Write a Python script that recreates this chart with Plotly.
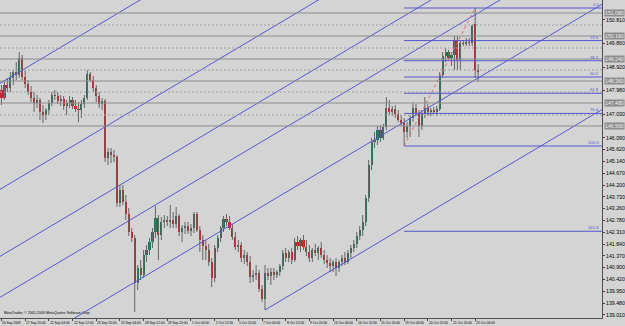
import plotly.graph_objects as go

# ---------------- data (GBPJPY H4, 16 Sep - 23 Oct 2009) ----------------
opens = [148.00,147.68,148.20,148.08,148.48,148.72,148.60,149.28,148.52,148.24,
         147.92,147.68,147.48,147.60,147.12,147.00,147.20,147.48,147.80,147.76,
         147.56,147.64,147.36,147.48,147.60,147.36,147.24,147.20,147.44,147.68,
         148.64,148.40,148.08,147.76,147.44,147.56,145.28,145.52,145.40,145.32,
         143.48,144.00,143.52,143.04,142.32,142.08,140.28,140.88,140.60,141.40,
         141.60,141.92,142.32,142.88,142.20,142.72,142.80,142.72,142.80,142.64,
         142.96,142.32,142.48,142.56,142.36,142.48,143.04,142.40,142.00,141.76,
         141.60,141.12,140.48,141.68,142.08,142.48,142.84,142.72,142.48,142.12,
         141.72,141.80,141.28,141.40,141.12,140.52,140.60,140.68,140.04,139.64,
         140.68,140.56,140.72,140.60,140.72,140.96,141.48,141.28,141.52,141.20,
         141.92,141.76,142.00,141.72,141.52,141.28,141.60,141.48,141.68,141.40,
         141.20,141.08,140.96,141.12,140.88,141.12,141.28,141.12,141.48,141.68,
         141.84,142.16,142.40,142.72,143.68,145.00,145.92,146.00,146.40,146.08,
         146.52,147.28,147.12,147.24,147.04,146.80,146.68,146.32,146.56,146.88,
         147.28,147.08,146.56,147.04,147.28,147.12,147.20,147.12,147.24,148.60,
         149.36,149.52,149.28,149.40,150.00,149.20,149.88,149.84,149.92,149.88,
         150.64,148.80]
highs = [148.20,148.40,148.48,148.72,148.80,149.12,149.52,149.40,148.80,148.40,
         148.16,147.92,147.80,147.68,147.40,147.28,147.60,147.92,148.00,147.92,
         147.80,147.76,147.60,147.76,147.72,147.60,147.52,147.60,147.80,148.80,
         148.72,148.56,148.20,147.92,147.68,147.64,145.68,145.68,145.60,145.40,
         144.20,144.20,143.80,143.28,142.48,142.20,141.00,141.20,141.60,141.80,
         142.08,142.48,143.36,143.00,142.92,143.00,142.96,143.40,143.12,143.32,
         143.04,142.60,142.72,142.72,142.64,143.12,143.12,142.56,142.20,142.00,
         141.84,141.28,141.80,142.20,142.56,142.96,143.04,142.96,142.64,142.32,
         142.00,141.92,141.60,141.52,141.36,140.80,141.00,140.80,140.20,141.00,
         140.88,140.88,140.88,140.80,141.04,141.60,141.68,141.60,141.68,142.08,
         142.16,142.08,142.20,142.00,141.80,141.68,141.84,141.76,141.92,141.60,
         141.40,141.28,141.20,141.28,141.20,141.40,141.52,141.60,141.80,142.00,
         142.32,142.56,143.00,143.80,145.20,146.08,146.32,146.56,146.60,146.64,
         147.72,147.60,147.36,147.40,147.20,147.00,146.88,146.72,147.00,147.48,
         147.44,147.20,147.20,147.72,147.44,147.28,147.32,147.36,148.72,149.52,
         149.68,149.60,149.52,150.16,150.16,150.00,150.00,150.08,150.08,150.64,
         151.28,149.04]
lows = [147.40,147.60,147.92,147.92,148.20,148.40,148.48,148.40,148.08,147.80,
        147.52,147.12,147.28,146.80,146.68,146.80,147.00,147.36,147.60,147.44,
        147.36,147.20,147.00,147.28,147.24,147.12,146.72,146.88,147.28,147.60,
        148.32,147.92,147.52,147.28,147.20,145.12,145.00,145.08,145.12,143.32,
        143.32,143.40,142.80,142.16,141.92,139.12,140.00,140.40,140.48,141.12,
        141.40,141.68,142.08,141.20,142.00,142.48,142.56,142.48,142.48,142.48,
        142.16,141.92,142.24,142.24,142.16,142.28,142.32,141.52,141.20,141.20,
        140.96,140.12,140.32,141.52,141.92,142.32,142.56,142.40,142.00,141.60,
        141.52,141.12,141.04,140.96,140.28,140.32,140.40,139.92,139.52,139.20,
        140.40,140.20,140.40,140.48,140.56,140.80,141.12,141.12,141.04,141.12,
        141.60,141.52,141.60,141.36,141.12,141.12,141.36,141.20,141.28,141.04,
        140.88,140.72,140.72,140.56,140.72,140.96,141.00,141.04,141.28,141.52,
        141.68,142.00,142.16,142.56,143.52,144.80,145.68,145.80,145.92,146.00,
        146.40,147.00,146.96,146.88,146.72,146.56,145.76,146.08,146.12,146.72,
        146.96,146.12,146.40,146.88,146.96,146.96,147.04,146.96,147.16,148.48,
        149.12,149.20,148.96,148.80,148.80,148.80,149.76,149.76,149.76,149.76,
        148.48,148.32]
closes = [147.68,148.20,148.08,148.48,148.72,148.60,149.28,148.52,148.24,147.92,
          147.68,147.48,147.60,147.12,147.00,147.20,147.48,147.80,147.76,147.56,
          147.64,147.36,147.48,147.60,147.36,147.24,147.20,147.44,147.68,148.64,
          148.40,148.08,147.76,147.44,147.56,145.28,145.52,145.40,145.32,143.48,
          144.00,143.52,143.04,142.32,142.08,140.28,140.88,140.60,141.40,141.60,
          141.92,142.32,142.88,142.20,142.72,142.80,142.72,142.80,142.64,142.96,
          142.32,142.48,142.56,142.36,142.48,143.04,142.40,142.00,141.76,141.60,
          141.12,140.48,141.68,142.08,142.48,142.84,142.72,142.48,142.12,141.72,
          141.80,141.28,141.40,141.12,140.52,140.60,140.68,140.04,139.64,140.68,
          140.56,140.72,140.60,140.72,140.96,141.48,141.28,141.52,141.20,141.92,
          141.76,142.00,141.72,141.52,141.28,141.60,141.48,141.68,141.40,141.20,
          141.08,140.96,141.12,140.88,141.12,141.28,141.12,141.48,141.68,141.84,
          142.16,142.40,142.72,143.68,145.00,145.92,146.00,146.40,146.08,146.52,
          147.28,147.12,147.24,147.04,146.80,146.68,146.32,146.56,146.88,147.28,
          147.08,146.56,147.04,147.28,147.12,147.20,147.12,147.24,148.60,149.36,
          149.52,149.28,149.40,150.00,149.20,149.88,149.84,149.92,149.88,150.56,
          148.80,148.72]
bars = list(range(len(closes)))

date_tick_bars = [0, 8, 16, 24, 32, 40, 48, 56, 64, 72, 80, 88, 96, 104, 112, 120, 128, 136, 144, 152, 160]
date_tick_labels = ["16 Sep 2009", "17 Sep 20:00", "21 Sep 04:00", "22 Sep 12:00", "23 Sep 20:00",
                    "25 Sep 04:00", "28 Sep 12:00", "29 Sep 20:00", "1 Oct 04:00", "2 Oct 12:00",
                    "5 Oct 20:00", "7 Oct 04:00", "8 Oct 12:00", "9 Oct 20:00", "13 Oct 04:00",
                    "14 Oct 12:00", "15 Oct 20:00", "19 Oct 04:00", "20 Oct 12:00", "21 Oct 20:00",
                    "23 Oct 04:00"]
# price scale labels (those hidden under the line price boxes are left out)
price_ticks = [150.810, 149.860, 148.920, 147.980, 147.030,
               146.090, 145.620, 145.140, 144.670, 144.200, 143.730, 143.260,
               142.780, 142.310, 141.840, 141.370, 140.900, 140.420, 139.950, 139.480, 139.010]

# user drawn horizontal lines
hline_solid = [151.08, 150.16, 149.24, 148.36, 147.48, 146.56]
hline_dotted = [150.60, 149.68, 148.80, 147.92, 147.00]

# Fibonacci retracement (anchors: swing low bar/price, swing high bar/price)
fib_low_bar, fib_low = 136, 145.76
fib_high_bar, fib_high = 160, 151.28
fib_levels = [0.0, 23.6, 38.2, 50.0, 61.8, 76.4, 100.0, 161.8]

# parallel channel lines: (bar0, price0, bar1, price1)
channel_lines = [
    (-1, 148.23, 203, 162.60),
    (-1, 143.99, 203, 158.36),
    (-1, 141.31, 203, 155.68),
    (-1, 139.67, 203, 154.04),
    (-1, 137.07, 203, 151.44),
    (89, 139.20, 203, 147.23),
]

# ---------------- style ----------------
BG = "#d4d4d4"
BULL = "#23705f"
BEAR = "#c82020"
WICK = "#666666"
BLUE = "#5656d2"
GRAY = "#8c8c8c"
FONT = "Liberation Sans"

fig = go.Figure()

# wicks
wx, wy = [], []
for i, h, l in zip(bars, highs, lows):
    wx += [i, i, None]
    wy += [h, l, None]
fig.add_trace(go.Scatter(x=wx, y=wy, mode="lines", line=dict(color=WICK, width=1),
                         hoverinfo="skip"))

# bodies
base = [min(o, c) for o, c in zip(opens, closes)]
height = [max(abs(c - o), 0.03) for o, c in zip(opens, closes)]
cols = [BULL if c >= o else BEAR for o, c in zip(opens, closes)]
fig.add_trace(go.Bar(x=bars, y=height, base=base, marker=dict(color=cols, line=dict(width=0)),
                     width=0.72))

# channel lines
for b0, p0, b1, p1 in channel_lines:
    fig.add_trace(go.Scatter(x=[b0, b1], y=[p0, p1], mode="lines",
                             line=dict(color=BLUE, width=1), hoverinfo="skip"))

# fib trend line
fig.add_trace(go.Scatter(x=[fib_low_bar, fib_high_bar], y=[fib_low, fib_high], mode="lines",
                         line=dict(color="#e06666", width=1, dash="dot"), hoverinfo="skip"))

shapes = []
for p in hline_solid:
    shapes.append(dict(type="line", xref="paper", x0=0, x1=1, yref="y", y0=p, y1=p,
                       line=dict(color=GRAY, width=1)))
for p in hline_dotted:
    shapes.append(dict(type="line", xref="paper", x0=0, x1=1, yref="y", y0=p, y1=p,
                       line=dict(color="#a0a0a0", width=1, dash="2px,2px")))

annotations = []
rng = fib_high - fib_low
for lv in fib_levels:
    p = fib_high - rng * lv / 100.0
    shapes.append(dict(type="line", xref="x", x0=fib_low_bar, x1=202.8, yref="y", y0=p, y1=p,
                       line=dict(color=BLUE, width=1)))
    annotations.append(dict(x=202.6, y=p, xref="x", yref="y", text=f"{lv:.1f}", showarrow=False,
                            xanchor="right", yanchor="bottom", yshift=-1,
                            font=dict(size=4.2, color=BLUE, family=FONT)))

for b, t in zip(date_tick_bars, date_tick_labels):
    annotations.append(dict(x=b, y=0, xref="x", yref="paper", text=t, showarrow=False,
                            xanchor="left", yanchor="top", xshift=-1, yshift=-1,
                            font=dict(size=3.3, color="#000000", family=FONT)))

annotations.append(dict(x=0.003, y=0.004, xref="paper", yref="paper",
                        text="MetaTrader, © 2001-2009 MetaQuotes Software Corp.",
                        showarrow=False, xanchor="left", yanchor="bottom",
                        font=dict(size=3.6, color="#000000", family=FONT)))

# price labels of the solid horizontal lines on the price scale
for p in hline_solid:
    annotations.append(dict(x=1, y=p, xref="paper", yref="y", text=f"{p:.3f}", showarrow=False,
                            xanchor="left", yanchor="middle", xshift=2,
                            bgcolor="#8c8c8c", borderpad=0,
                            font=dict(size=5.2, color="#f0f0f0", family=FONT)))

fig.update_layout(
    width=625, height=326,
    margin=dict(l=0, r=15, t=0, b=8, pad=0),
    paper_bgcolor=BG, plot_bgcolor=BG,
    showlegend=False, bargap=0,
    shapes=shapes, annotations=annotations,
    xaxis=dict(range=[-0.5, 202.833], showgrid=False, zeroline=False,
               tickvals=date_tick_bars, showticklabels=False, ticks="outside",
               ticklen=2, tickcolor="#404040", showline=True, linecolor="#505050",
               linewidth=1, fixedrange=True),
    yaxis=dict(range=[138.88, 151.6], side="right", showgrid=False, zeroline=False,
               tickvals=price_ticks, ticktext=[f"{v:.3f}" for v in price_ticks],
               ticks="outside", ticklen=2, tickcolor="#404040",
               tickfont=dict(size=5.2, color="#000000", family=FONT),
               showline=True, linecolor="#505050", linewidth=1, fixedrange=True),
)

fig.write_html("out.html")
